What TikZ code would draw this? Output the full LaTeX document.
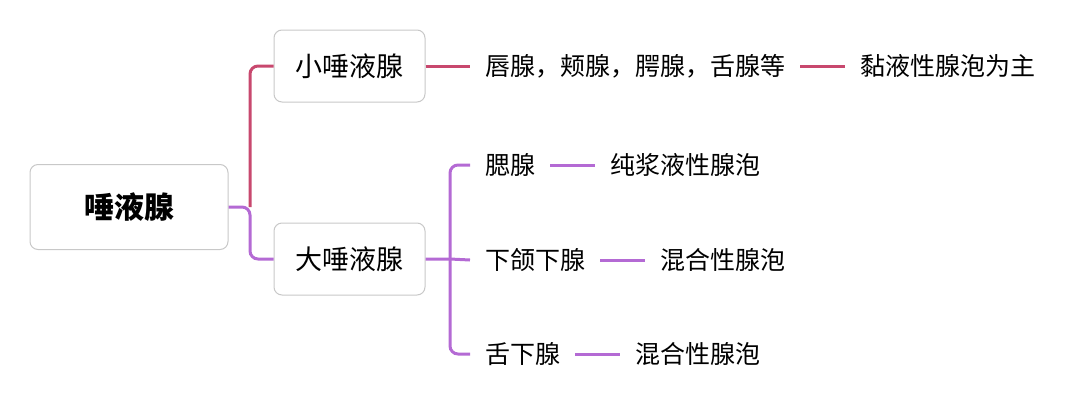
\documentclass[tikz,border=0pt]{standalone}
\usepackage{fontspec}
\setmainfont{Noto Sans CJK SC}
\usetikzlibrary{positioning}
\definecolor{minorred}{RGB}{200,72,110}
\definecolor{majorpurple}{RGB}{180,106,212}
\definecolor{boxgray}{RGB}{200,200,200}

\begin{document}
\begin{tikzpicture}[x=1pt,y=-1pt,
	box/.style={draw=boxgray,line width=1pt,rounded corners=8pt,fill=white},
	leaf/.style={inner xsep=15pt,inner ysep=0pt,font=\fontsize{25}{30}\selectfont},
	redline/.style={draw=minorred,line width=3pt},
	purpline/.style={draw=majorpurple,line width=3pt}]
	\useasboundingbox (0,0) rectangle (1080,416);

	% main boxes
	\node[box,minimum width=198pt,minimum height=85pt,font=\fontsize{30}{36}\selectfont\bfseries] (root) at (129,207) {唾液腺};
	\node[box,minimum width=151pt,minimum height=72pt,font=\fontsize{27}{32}\selectfont] (minor) at (349.5,66) {小唾液腺};
	\node[box,minimum width=151pt,minimum height=72pt,font=\fontsize{27}{32}\selectfont] (major) at (349.5,259) {大唾液腺};

	% junctions
	\coordinate (j1) at (250,207);
	\coordinate (j2) at (450,259);

	% leaves
	\node[leaf,anchor=west] (m1) at (470,66) {唇腺，颊腺，腭腺，舌腺等};
	\node[leaf,right=45pt of m1] (m2) {黏液性腺泡为主};
	\node[leaf,anchor=west] (p1) at (470,165) {腮腺};
	\node[leaf,right=45pt of p1] (p2) {纯浆液性腺泡};
	\node[leaf,anchor=west] (s1) at (470,260) {下颌下腺};
	\node[leaf,right=45pt of s1] (s2) {混合性腺泡};
	\node[leaf,anchor=west] (u1) at (470,354) {舌下腺};
	\node[leaf,right=45pt of u1] (u2) {混合性腺泡};

	% connectors
	\draw[redline,rounded corners=8pt] (j1) |- (minor.west);
	\draw[purpline,rounded corners=8pt] (root.east) -- (j1) |- (major.west);
	\draw[redline] (minor.east) -- (m1.west);
	\draw[redline] (m1.east) -- (m2.west);
	\draw[purpline] (major.east) -- (j2) -- (s1.west);
	\draw[purpline,rounded corners=8pt] (j2) |- (p1.west);
	\draw[purpline,rounded corners=8pt] (j2) |- (u1.west);
	\draw[purpline] (p1.east) -- (p2.west);
	\draw[purpline] (s1.east) -- (s2.west);
	\draw[purpline] (u1.east) -- (u2.west);
\end{tikzpicture}
\end{document}
